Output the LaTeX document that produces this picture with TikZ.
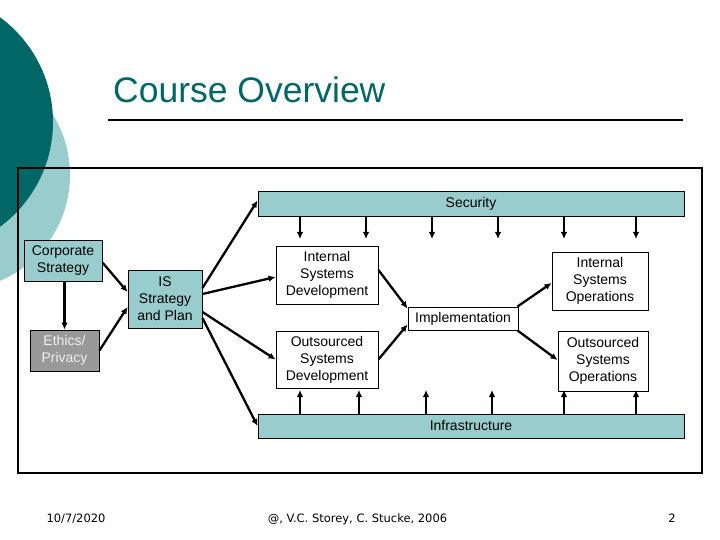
\documentclass[tikz,border=0pt]{standalone}
\usepackage{fontspec}
\setmainfont{Liberation Sans}
\newfontfamily\footfont{DejaVu Sans}
\usetikzlibrary{arrows.meta}
\definecolor{teal1}{RGB}{0,102,102}
\definecolor{lteal}{RGB}{153,204,204}
\definecolor{gbox}{RGB}{153,153,153}
\definecolor{ltext}{RGB}{240,240,240}
\begin{document}
\begin{tikzpicture}[x=1pt,y=-1pt,
 box/.style={draw=black,line width=0.9pt,fill=white,inner sep=0pt,align=center,font=\fontsize{14}{17}\selectfont},
 tbox/.style={box,fill=lteal},
 arr/.style={line width=2.3pt,-{Latex[length=7pt,width=6.5pt]}},
 foot/.style={anchor=base,inner sep=0pt,font=\footfont\fontsize{11.5}{14}\selectfont},
]
\useasboundingbox (0,0) rectangle (720,540);
\begin{scope}
\clip (0,0) rectangle (720,540);
\fill[lteal] (-45,175) circle[radius=115];
\fill[teal1] (-77,122) circle[radius=130];
\end{scope}

% title
\node[anchor=base west,inner sep=0pt,text=teal1,font=\fontsize{35.5}{40}\selectfont] (title) at (113,102.5) {Course Overview};
\coordinate (tl) at (108,120);
\coordinate (tr) at (683,120);
\draw[line width=2pt] (tl) -- (tr);

% frame
\node[draw,line width=2.2pt,minimum width=684pt,minimum height=305pt,inner sep=0pt] (frame) at (360,320.5) {};

% bars
\node[tbox,minimum width=426pt,minimum height=25pt] (sec) at (471,203.5) {Security};
\node[tbox,minimum width=426pt,minimum height=24pt] (inf) at (471,426) {Infrastructure};

% boxes
\node[tbox,minimum width=78pt,minimum height=41pt] (corp) at (63,260.5) {Corporate\\Strategy};
\node[box,fill=gbox,text=ltext,minimum width=69pt,minimum height=41pt] (eth) at (64.5,350.5) {Ethics/\\Privacy};
\node[tbox,minimum width=74pt,minimum height=58pt] (is) at (165,299) {IS\\Strategy\\and Plan};
\node[box,minimum width=102pt,minimum height=58pt] (isd) at (327,275) {Internal\\Systems\\Development};
\node[box,minimum width=102pt,minimum height=57pt] (osd) at (327,359.5) {Outsourced\\Systems\\Development};
\node[box,minimum width=110pt,minimum height=23pt] (imp) at (463,318.5) {Implementation};
\node[box,minimum width=96pt,minimum height=58pt] (iso) at (600,281) {Internal\\Systems\\Operations};
\node[box,minimum width=90pt,minimum height=60pt] (oso) at (603,361) {Outsourced\\Systems\\Operations};

% arrows
\draw[arr] (corp.south -| eth.north) -- (eth.north);
\draw[arr] ([yshift=-2pt]corp.east) -- ([yshift=7pt]is.west);
\draw[arr] (eth.east) -- ([yshift=-8pt]is.west);
\draw[arr] ([yshift=11pt]is.east) -- ([yshift=3pt]sec.west);
\draw[arr] ([yshift=5pt]is.east) -- ([yshift=-2pt]isd.west);
\draw[arr] ([yshift=-13pt]is.east) -- (osd.west);
\draw[arr] ([yshift=-19pt]is.east) -- (inf.west);
\draw[arr] ([yshift=5pt]isd.east) -- ([yshift=10pt]imp.west);
\draw[arr] (osd.east) -- ([yshift=-6pt]imp.west);
\draw[arr] ([xshift=-1pt]imp.north east) -- ([yshift=-2pt]iso.west);
\draw[arr] ([xshift=-1pt]imp.south east) -- ([yshift=1pt]oso.west);

\foreach \x in {300,366,432,498,564,636}{
  \coordinate (s\x) at (\x,239);
  \draw[arr] (sec.south -| s\x) -- (s\x);
}
\foreach \x in {300,359,426,492,564,636}{
  \coordinate (i\x) at (\x,390);
  \draw[arr] (inf.north -| i\x) -- (i\x);
}

% footer
\node[foot] (date) at (76,522) {10/7/2020};
\node[foot] (copy) at (357.5,522) {@, V.C. Storey, C. Stucke, 2006};
\node[foot] (pg) at (672,522) {2};
\end{tikzpicture}
\end{document}
